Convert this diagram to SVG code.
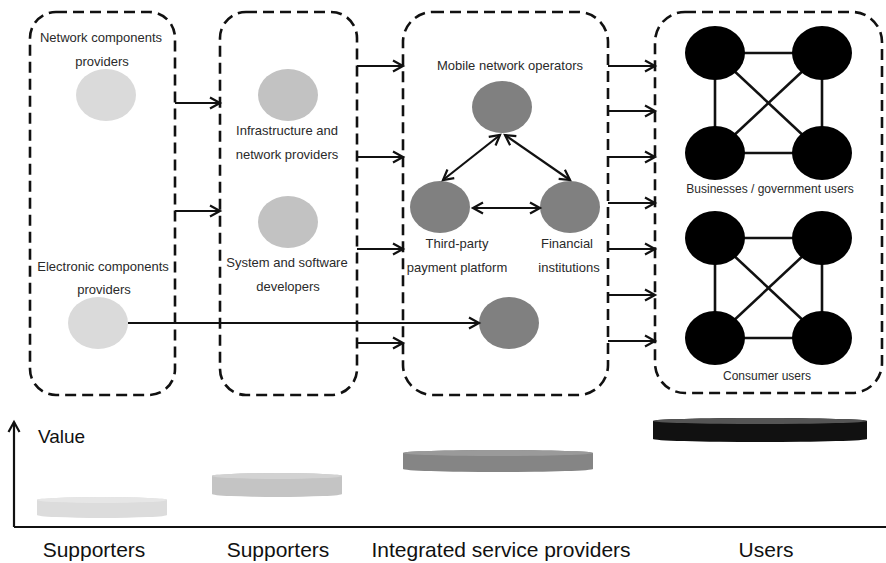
<svg xmlns="http://www.w3.org/2000/svg" width="886" height="563" viewBox="0 0 886 563">
<defs>
<marker id="ah" markerUnits="userSpaceOnUse" markerWidth="14" markerHeight="14" refX="11" refY="7" orient="auto-start-reverse">
<path d="M1,1.5 L11,7 L1,12.5" fill="none" stroke="#111" stroke-width="2.2"/>
</marker>
</defs>
<style>
.box{fill:none;stroke:#111;stroke-width:2.6;stroke-dasharray:11 6}
.lbl{font-family:"Liberation Sans",Arial,sans-serif;font-size:13px;fill:#2a2a2a;text-anchor:middle}
.big{font-family:"Liberation Sans",Arial,sans-serif;font-size:21px;fill:#111;text-anchor:middle}
.c1{fill:#dadada}.c2{fill:#c2c2c2}.c3{fill:#808080}.c4{fill:#000}
.arr{stroke:#111;stroke-width:2.2;fill:none;marker-end:url(#ah)}
.dbl{stroke:#111;stroke-width:2.2;fill:none;marker-end:url(#ah);marker-start:url(#ah)}
.ln{stroke:#111;stroke-width:2.6}
</style>
<rect width="886" height="563" fill="#fff"/>

<g id="group-supporters-1">
<rect class="box" x="30" y="12" width="145" height="383" rx="26"/>
</g>
<g id="group-supporters-2">
<rect class="box" x="220" y="12" width="137" height="383" rx="26"/>
</g>
<g id="group-integrated">
<rect class="box" x="403" y="12" width="205" height="383" rx="30"/>
</g>
<g id="group-users">
<rect class="box" x="655" y="12" width="227" height="381" rx="30"/>
</g>

<g id="network-components">
<ellipse class="c1" cx="106" cy="95" rx="30" ry="26"/>
<text class="lbl" x="101" y="42">Network components</text>
<text class="lbl" x="102" y="66">providers</text>
</g>
<g id="electronic-components">
<ellipse class="c1" cx="98" cy="323" rx="30" ry="26"/>
<text class="lbl" x="103" y="271">Electronic components</text>
<text class="lbl" x="104" y="294">providers</text>
</g>
<g id="infrastructure">
<ellipse class="c2" cx="288" cy="95" rx="30" ry="26"/>
<text class="lbl" x="287" y="135">Infrastructure and</text>
<text class="lbl" x="287" y="159">network providers</text>
</g>
<g id="system-software">
<ellipse class="c2" cx="288" cy="222" rx="30" ry="26"/>
<text class="lbl" x="287" y="267">System and software</text>
<text class="lbl" x="288" y="291">developers</text>
</g>
<g id="mobile-operators">
<ellipse class="c3" cx="502" cy="107" rx="30" ry="26"/>
<text class="lbl" x="510" y="70">Mobile network operators</text>
</g>
<g id="third-party">
<ellipse class="c3" cx="440" cy="207" rx="30" ry="26"/>
<text class="lbl" x="457" y="248">Third-party</text>
<text class="lbl" x="457" y="272">payment platform</text>
</g>
<g id="financial">
<ellipse class="c3" cx="570" cy="207" rx="30" ry="26"/>
<text class="lbl" x="567" y="248">Financial</text>
<text class="lbl" x="569" y="272">institutions</text>
</g>
<g id="other-provider">
<ellipse class="c3" cx="509" cy="323" rx="30" ry="26"/>
</g>

<g id="business-users">
<line class="ln" x1="715" y1="53" x2="822" y2="53"/>
<line class="ln" x1="715" y1="153" x2="822" y2="153"/>
<line class="ln" x1="715" y1="53" x2="715" y2="153"/>
<line class="ln" x1="822" y1="53" x2="822" y2="153"/>
<line class="ln" x1="715" y1="53" x2="822" y2="153"/>
<line class="ln" x1="822" y1="53" x2="715" y2="153"/>
<ellipse class="c4" cx="715" cy="53" rx="30" ry="27"/>
<ellipse class="c4" cx="822" cy="53" rx="30" ry="27"/>
<ellipse class="c4" cx="715" cy="153" rx="30" ry="27"/>
<ellipse class="c4" cx="822" cy="153" rx="30" ry="27"/>
<text class="lbl" x="770" y="193" style="font-size:12px">Businesses / government users</text>
</g>
<g id="consumer-users">
<line class="ln" x1="715" y1="238" x2="822" y2="238"/>
<line class="ln" x1="715" y1="338" x2="822" y2="338"/>
<line class="ln" x1="715" y1="238" x2="715" y2="338"/>
<line class="ln" x1="822" y1="238" x2="822" y2="338"/>
<line class="ln" x1="715" y1="238" x2="822" y2="338"/>
<line class="ln" x1="822" y1="238" x2="715" y2="338"/>
<ellipse class="c4" cx="715" cy="238" rx="30" ry="27"/>
<ellipse class="c4" cx="822" cy="238" rx="30" ry="27"/>
<ellipse class="c4" cx="715" cy="338" rx="30" ry="27"/>
<ellipse class="c4" cx="822" cy="338" rx="30" ry="27"/>
<text class="lbl" x="767" y="380" style="font-size:12px">Consumer users</text>
</g>

<g id="connectors">
<line class="arr" x1="175" y1="103" x2="220" y2="103"/>
<line class="arr" x1="175" y1="211" x2="220" y2="211"/>
<line class="arr" x1="357" y1="66" x2="403" y2="66"/>
<line class="arr" x1="357" y1="157" x2="403" y2="157"/>
<line class="arr" x1="357" y1="249" x2="403" y2="249"/>
<line class="arr" x1="357" y1="343" x2="403" y2="343"/>
<line class="arr" x1="608" y1="66" x2="655" y2="66"/>
<line class="arr" x1="608" y1="111" x2="655" y2="111"/>
<line class="arr" x1="608" y1="157" x2="655" y2="157"/>
<line class="arr" x1="608" y1="203" x2="655" y2="203"/>
<line class="arr" x1="608" y1="249" x2="655" y2="249"/>
<line class="arr" x1="608" y1="295" x2="655" y2="295"/>
<line class="arr" x1="608" y1="341" x2="655" y2="341"/>
<line class="arr" x1="128" y1="323" x2="479" y2="323"/>
<line class="dbl" x1="500" y1="135" x2="443" y2="180"/>
<line class="dbl" x1="505" y1="135" x2="570" y2="180"/>
<line class="dbl" x1="473" y1="208" x2="540" y2="208"/>
</g>

<g id="value-chart">
<line stroke="#111" stroke-width="2.2" x1="14" y1="527" x2="886" y2="527"/>
<line stroke="#111" stroke-width="2.2" x1="14" y1="527" x2="14" y2="422" marker-end="url(#ah)"/>
<text x="38" y="443" style="font-family:'Liberation Sans',Arial,sans-serif;font-size:19px;fill:#111">Value</text>
<path d="M37,500 A65,3 0 0 1 167,500 V515 A65,3 0 0 1 37,515 Z" fill="#dcdcdc"/>
<ellipse cx="102" cy="500" rx="65" ry="3" fill="#e6e6e6"/>
<path d="M212,476 A65,3 0 0 1 342,476 V494 A65,3 0 0 1 212,494 Z" fill="#c4c4c4"/>
<ellipse cx="277" cy="476" rx="65" ry="3" fill="#d2d2d2"/>
<path d="M403,453 A95,3 0 0 1 593,453 V469 A95,3 0 0 1 403,469 Z" fill="#858585"/>
<ellipse cx="498" cy="453" rx="95" ry="3" fill="#9a9a9a"/>
<path d="M653,421 A107,3 0 0 1 867,421 V439 A107,3 0 0 1 653,439 Z" fill="#111"/>
<ellipse cx="760" cy="421" rx="107" ry="3" fill="#555"/>
<text class="big" x="94" y="557">Supporters</text>
<text class="big" x="278" y="557">Supporters</text>
<text class="big" x="501" y="557">Integrated service providers</text>
<text class="big" x="766" y="557">Users</text>
</g>
</svg>
